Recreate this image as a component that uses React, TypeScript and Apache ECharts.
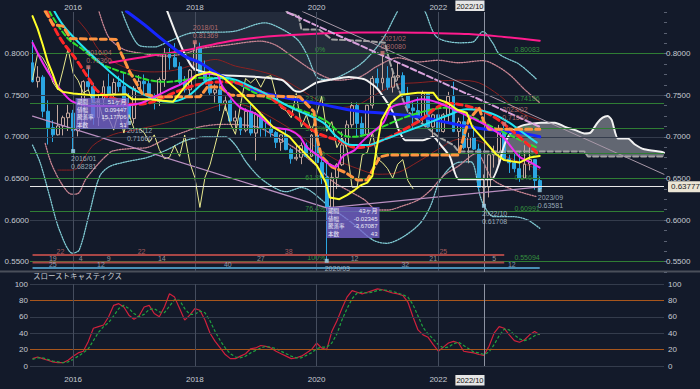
import React, { useEffect, useRef } from 'react';
import * as echarts from 'echarts';

const FONT = '"Liberation Sans", "Noto Sans CJK JP", sans-serif';
const BG = '#131a2a';
const AXIS_TEXT = '#c6cad2';

// ---------- categories (monthly) ----------
const START_YEAR = 2015;
const START_MONTH = 5;
const CATEGORY_COUNT = 125;
const categories: string[] = Array.from({ length: CATEGORY_COUNT }, (_, k) => {
  const m = START_MONTH - 1 + k;
  return `${START_YEAR + Math.floor(m / 12)}/${String((m % 12) + 1).padStart(2, '0')}`;
});
const yearLabels = ['2016/01', '2018/01', '2020/01', '2022/01'];
const cursorMonth = '2022/10';
const priceGridLevels = [0.55, 0.6, 0.65, 0.7, 0.75, 0.8];
const priceLabelMax = 0.8;
const stochGridLevels = [0, 40, 60, 100];
const stochBandLevels = [20, 80];
const currentPrice = 0.63777;

// ---------- monthly candles [open, high, low, close] 2015/05 .. 2023/09 ----------
const ohlc: number[][] = [
  [0.7890, 0.8163, 0.7652, 0.7663], [0.7663, 0.7849, 0.7592, 0.7717], [0.7717, 0.7741, 0.7234, 0.7307], [0.7307, 0.7439, 0.6907, 0.7110],
  [0.7110, 0.7198, 0.6937, 0.7024], [0.7024, 0.7382, 0.7016, 0.7130], [0.7130, 0.7254, 0.7017, 0.7230], [0.7230, 0.7384, 0.7070, 0.7285],
  [0.7285, 0.7324, 0.68281, 0.7073], [0.7073, 0.7242, 0.7005, 0.7134], [0.7134, 0.7680, 0.7100, 0.7663], [0.7663, 0.7836, 0.7548, 0.7602],
  [0.7602, 0.7649, 0.7145, 0.7231], [0.7231, 0.7508, 0.7130, 0.7452], [0.7452, 0.7676, 0.7380, 0.7602], [0.7602, 0.7758, 0.7489, 0.7519],
  [0.7519, 0.7700, 0.7442, 0.7653], [0.7653, 0.7733, 0.7542, 0.7605], [0.7605, 0.7778, 0.7310, 0.7385], [0.7385, 0.7525, 0.7166, 0.7219],
  [0.7219, 0.7610, 0.7160, 0.7582], [0.7582, 0.7741, 0.7563, 0.7667], [0.7667, 0.7749, 0.7491, 0.7638], [0.7638, 0.7680, 0.7470, 0.7483],
  [0.7483, 0.7520, 0.7329, 0.7424], [0.7424, 0.7713, 0.7370, 0.7688], [0.7688, 0.8066, 0.7600, 0.7998], [0.7998, 0.8066, 0.7807, 0.7950],
  [0.7950, 0.8125, 0.7835, 0.7842], [0.7842, 0.7897, 0.7625, 0.7655], [0.7655, 0.7730, 0.7532, 0.7565], [0.7565, 0.7815, 0.7501, 0.7801],
  [0.7801, 0.81369, 0.7792, 0.8057], [0.8057, 0.8131, 0.7759, 0.7764], [0.7764, 0.7917, 0.7643, 0.7676], [0.7676, 0.7813, 0.7500, 0.7528],
  [0.7528, 0.7630, 0.7412, 0.7565], [0.7565, 0.7677, 0.7310, 0.7401], [0.7401, 0.7484, 0.7309, 0.7432], [0.7432, 0.7453, 0.7185, 0.7190],
  [0.7190, 0.7315, 0.7085, 0.7227], [0.7227, 0.7241, 0.7021, 0.7080], [0.7080, 0.7341, 0.7055, 0.7306], [0.7306, 0.7394, 0.7015, 0.7045],
  [0.7045, 0.7296, 0.6716, 0.7267], [0.7267, 0.7296, 0.7002, 0.7099], [0.7099, 0.7169, 0.7003, 0.7098], [0.7098, 0.7207, 0.6988, 0.7051],
  [0.7051, 0.7069, 0.6865, 0.6934], [0.6934, 0.7028, 0.6832, 0.7023], [0.7023, 0.7082, 0.6838, 0.6846], [0.6846, 0.6868, 0.6677, 0.6736],
  [0.6736, 0.6895, 0.6713, 0.6754], [0.6754, 0.6930, 0.6671, 0.6894], [0.6894, 0.6930, 0.6754, 0.6765], [0.6765, 0.7032, 0.6755, 0.7021],
  [0.7021, 0.7031, 0.6683, 0.6690], [0.6690, 0.6775, 0.6433, 0.6510], [0.6510, 0.6685, 0.55094, 0.6151], [0.6151, 0.6570, 0.5980, 0.6512],
  [0.6512, 0.6683, 0.6372, 0.6665], [0.6665, 0.7064, 0.6648, 0.6902], [0.6902, 0.7196, 0.6877, 0.7144], [0.7144, 0.7414, 0.7110, 0.7376],
  [0.7376, 0.7413, 0.7005, 0.7161], [0.7161, 0.7243, 0.6991, 0.7030], [0.7030, 0.7370, 0.6991, 0.7380], [0.7380, 0.7731, 0.7340, 0.7701],
  [0.7701, 0.7820, 0.7592, 0.7648], [0.7648, 0.8008, 0.7564, 0.7704], [0.7704, 0.7849, 0.7563, 0.7596], [0.7596, 0.7816, 0.7532, 0.7717],
  [0.7717, 0.7891, 0.7675, 0.7735], [0.7735, 0.7775, 0.7477, 0.7500], [0.7500, 0.7600, 0.7289, 0.7347], [0.7347, 0.7427, 0.7106, 0.7315],
  [0.7315, 0.7478, 0.7170, 0.7229], [0.7229, 0.7556, 0.7170, 0.7521], [0.7521, 0.7536, 0.7111, 0.7120], [0.7120, 0.7277, 0.6993, 0.7264],
  [0.7264, 0.7315, 0.6968, 0.7064], [0.7064, 0.7284, 0.7050, 0.7263], [0.7263, 0.7540, 0.7165, 0.7486], [0.7486, 0.7662, 0.7055, 0.7065],
  [0.7065, 0.7230, 0.6829, 0.7182], [0.7182, 0.7283, 0.6850, 0.6870], [0.6870, 0.7048, 0.6682, 0.6990], [0.6990, 0.7137, 0.6841, 0.6852],
  [0.6852, 0.6916, 0.6363, 0.6394], [0.6394, 0.6547, 0.61708, 0.6397], [0.6397, 0.6800, 0.6272, 0.6783], [0.6783, 0.6893, 0.6630, 0.6812],
  [0.6812, 0.7143, 0.6688, 0.7056], [0.7056, 0.71566, 0.6722, 0.6734], [0.6734, 0.6784, 0.6565, 0.6688], [0.6688, 0.6806, 0.6573, 0.6617],
  [0.6617, 0.6818, 0.6458, 0.6503], [0.6503, 0.6899, 0.6500, 0.6671], [0.6671, 0.6895, 0.6596, 0.6726], [0.6726, 0.6730, 0.6364, 0.6474],
  [0.6474, 0.6522, 0.63581, 0.63777],
];
const chikouShift = 25;

// ---------- indicator lines: [monthIndex, value] ----------
const longMA = [[15.2, 0.789], [22, 0.796], [31, 0.805], [38, 0.814], [44, 0.819], [50, 0.822], [56, 0.824], [64, 0.8255], [72, 0.8255], [80, 0.8245], [86, 0.8235], [93, 0.82], [100, 0.8155]];
const blueMA = [[18.5, 0.851], [22, 0.835], [26, 0.815], [30, 0.797], [33, 0.789], [37, 0.774], [41, 0.763], [44, 0.755], [50, 0.747], [57, 0.739], [64, 0.731], [70, 0.728], [76, 0.724], [82, 0.717], [86, 0.712], [92, 0.707], [96, 0.705], [100, 0.70]];
const cyanMA = [[4.3, 0.851], [6.7, 0.829], [12.6, 0.793], [19.1, 0.76], [24.4, 0.745], [27, 0.742], [30.4, 0.748], [34.9, 0.769], [37.5, 0.771], [44.2, 0.757], [50.7, 0.736], [57.3, 0.717], [60, 0.70], [63, 0.69], [66, 0.69], [69, 0.696], [75.7, 0.711], [82.2, 0.7265], [85.6, 0.733], [90.1, 0.729], [94, 0.717], [96, 0.708], [99.4, 0.693]];
const redMA = [[2.8, 0.851], [5.3, 0.82], [8.7, 0.792], [11.2, 0.769], [13.2, 0.753], [16.6, 0.745], [19.7, 0.739], [23.1, 0.741], [26.4, 0.749], [29.6, 0.757], [32.9, 0.763], [37.5, 0.766], [44.2, 0.757], [49.3, 0.736], [52.7, 0.72], [56, 0.705], [60.6, 0.695], [63.9, 0.687], [69, 0.696], [75.7, 0.717], [82.2, 0.74], [85.6, 0.737], [90.1, 0.727], [95, 0.705], [99.4, 0.681]];
const greenMA = [[3.3, 0.851], [6.7, 0.82], [9.9, 0.805], [13.2, 0.789], [16.6, 0.78], [19.7, 0.774], [23.1, 0.768], [26.4, 0.766], [29.6, 0.768], [32.9, 0.771], [37.5, 0.77], [44.2, 0.752], [50.7, 0.737], [57.3, 0.721], [62.6, 0.70], [66, 0.703], [69, 0.712], [75.7, 0.728], [82.2, 0.735], [86.2, 0.725], [92, 0.708], [99.4, 0.687]];
const magentaMA = [[0, 0.813], [2, 0.789], [4, 0.769], [6, 0.753], [8, 0.742], [12, 0.737], [16, 0.737], [21, 0.74], [24, 0.748], [27, 0.757], [29.5, 0.764], [33, 0.775], [36, 0.776], [37.5, 0.76], [40.8, 0.736], [44.2, 0.727], [47.4, 0.712], [50.7, 0.708], [52.7, 0.70], [54, 0.688], [56.6, 0.676], [58, 0.669], [59.8, 0.664], [61.1, 0.676], [63.5, 0.684], [64.8, 0.693], [66, 0.70], [67.5, 0.708], [69.2, 0.717], [70.7, 0.735], [74, 0.741], [76.7, 0.745], [80, 0.741], [83, 0.733], [86.2, 0.724], [89.4, 0.714], [92.7, 0.70], [96, 0.676], [98, 0.67], [100, 0.663]];
const tenkan = [[0, 0.845], [1, 0.83], [2, 0.811], [3, 0.79], [4, 0.775], [5, 0.758], [6, 0.754], [8, 0.752], [12, 0.75], [18.5, 0.751], [19.7, 0.745], [23, 0.745], [27.7, 0.742], [30.4, 0.763], [32.3, 0.774], [34.9, 0.778], [37.5, 0.772], [40.8, 0.754], [44.2, 0.7325], [47.4, 0.712], [50.7, 0.70], [52.1, 0.69], [56, 0.666], [57.8, 0.645], [58.6, 0.627], [60.5, 0.625], [62, 0.63], [63.5, 0.636], [64.8, 0.642], [66, 0.645], [67, 0.653], [67.7, 0.681], [68.8, 0.72], [70.7, 0.741], [72.6, 0.7506], [75.9, 0.753], [79, 0.753], [80, 0.745], [81.8, 0.741], [83.7, 0.7325], [85.6, 0.729], [86.7, 0.712], [89, 0.696], [91.4, 0.679], [93, 0.672], [96, 0.669], [98, 0.675], [100, 0.677]];
const kijun = [[2.5, 0.851], [4, 0.835], [6, 0.833], [7.5, 0.818], [16.5, 0.817], [17.5, 0.80], [19, 0.78], [20.5, 0.764], [21.6, 0.752], [24.5, 0.748], [33, 0.748], [34.5, 0.76], [37, 0.76], [39, 0.75], [52.7, 0.748], [55.5, 0.73], [56, 0.70], [57, 0.676], [59, 0.664], [61.7, 0.657], [64, 0.648], [66, 0.648], [67.3, 0.663], [68.5, 0.676], [70, 0.678], [84, 0.678], [85, 0.70], [86, 0.72], [88, 0.735], [89, 0.718], [90, 0.709], [100, 0.709]];
const spanA = [[26, 0.86], [28.2, 0.825], [29.9, 0.801], [31.6, 0.783], [34.3, 0.777], [37.5, 0.774], [44.2, 0.772], [49.3, 0.768], [51.5, 0.756], [52.6, 0.754], [55.9, 0.765], [59.1, 0.769], [62.3, 0.772], [65.5, 0.769], [67.8, 0.759], [69.5, 0.745], [71, 0.73], [72.2, 0.708], [73.5, 0.696], [77, 0.696], [79, 0.70], [80.5, 0.69], [82.3, 0.676], [84, 0.649], [90.5, 0.649], [92, 0.668], [92.6, 0.682], [93.4, 0.696], [94.8, 0.708], [96.8, 0.714], [100.3, 0.717], [103, 0.717], [105, 0.712], [107, 0.708], [108.8, 0.704], [110, 0.705], [111.4, 0.717], [112.4, 0.723], [113.4, 0.725], [114.2, 0.72], [115.4, 0.698], [117.4, 0.698], [118.7, 0.691], [120.6, 0.685], [123.9, 0.682], [124.5, 0.681]];
const spanB = [[26, 0.875], [48, 0.87], [50.3, 0.849], [52.5, 0.845], [53, 0.829], [56.5, 0.829], [59, 0.817], [66, 0.815], [69.5, 0.813], [70, 0.80], [70.5, 0.789], [72, 0.76], [74, 0.73], [77, 0.715], [80, 0.70], [83, 0.69], [84, 0.6823], [92.6, 0.6823], [108.8, 0.6823], [109.5, 0.6763], [124.5, 0.6763]];
const cloudSplit = 92.6;
const bandOuterUpper = [[17.5, 0.853], [21, 0.81], [24, 0.808], [27, 0.815], [31.5, 0.825], [39.4, 0.8265], [45.8, 0.837], [49, 0.83], [52.2, 0.817], [54, 0.80], [56, 0.772], [57.3, 0.769], [60, 0.771], [65, 0.789], [69, 0.817], [71.8, 0.849], [73, 0.86], [76.5, 0.86], [77.5, 0.849], [79.7, 0.82], [84.2, 0.813], [86.8, 0.814], [88.8, 0.8265], [90.7, 0.813], [92.1, 0.799], [96, 0.787], [99.4, 0.769]];
const bandOuterLower = [[0, 0.69], [1.5, 0.669], [3.4, 0.628], [5.3, 0.588], [7.9, 0.56], [9.2, 0.564], [11.2, 0.608], [13.2, 0.652], [15.1, 0.664], [18.5, 0.67], [22.5, 0.675], [26.4, 0.684], [30.4, 0.696], [34.3, 0.70], [38, 0.70], [40, 0.69], [42.2, 0.669], [45.4, 0.648], [50, 0.634], [53, 0.639], [58.6, 0.616], [63.1, 0.596], [67.1, 0.576], [69.8, 0.572], [73, 0.5795], [76.4, 0.596], [78.4, 0.616], [80.4, 0.648], [83.8, 0.669], [86.4, 0.67], [88.3, 0.628], [89.3, 0.614], [90.9, 0.604], [94.8, 0.604], [97.6, 0.60], [100, 0.59]];
const bandMidUpper = [[13, 0.853], [15, 0.82], [18, 0.805], [22, 0.80], [26, 0.797], [30, 0.80], [33, 0.806], [38, 0.81], [45, 0.815], [48, 0.81], [52, 0.793], [56, 0.777], [60, 0.768], [64.5, 0.772], [68, 0.785], [72, 0.795], [76, 0.79], [80, 0.792], [84, 0.789], [88.8, 0.7916], [91, 0.787], [94, 0.775], [97, 0.757], [100, 0.741]];
const bandMidLower = [[2.5, 0.692], [3.7, 0.668], [5.7, 0.644], [7.7, 0.631], [9, 0.632], [10.5, 0.649], [12.6, 0.665], [14.5, 0.677], [15.8, 0.683], [19.7, 0.686], [22.5, 0.687], [26.4, 0.698], [30, 0.706], [33, 0.712], [37.5, 0.715], [44.2, 0.712], [48, 0.70], [52, 0.685], [56, 0.665], [59.5, 0.645], [63, 0.633], [65.5, 0.624], [68, 0.612], [70, 0.612], [73, 0.617], [76, 0.624], [78.5, 0.636], [81, 0.653], [84, 0.665], [87.5, 0.68], [90.7, 0.649], [94.5, 0.637], [99.4, 0.628]];
const bandInnerUpper = [[9, 0.84], [11, 0.825], [13, 0.805], [16, 0.79], [20, 0.78], [24, 0.778], [28, 0.78], [32, 0.787], [36, 0.793], [40, 0.785], [44, 0.78], [48, 0.773], [52, 0.76], [56, 0.745], [60, 0.735], [64, 0.738], [68, 0.752], [72, 0.763], [76, 0.765], [80, 0.767], [84, 0.768], [88, 0.765], [92, 0.75], [96, 0.73], [100, 0.72]];
const bandInnerLower = [[5, 0.66], [8, 0.66], [12, 0.69], [16, 0.703], [20, 0.708], [23, 0.712], [27, 0.718], [30, 0.725], [33, 0.73], [37, 0.738], [40, 0.74], [44, 0.733], [48, 0.72], [52, 0.705], [56, 0.687], [60, 0.672], [64, 0.662], [68, 0.655], [72, 0.657], [76, 0.67], [80, 0.685], [84, 0.697], [88, 0.695], [92, 0.68], [96, 0.67], [100, 0.66]];
const channelDashed = [[50.3, 0.8494], [100, 0.712]];
const channelThin = [[53.2, 0.8506], [124.5, 0.6549]];
const supportLeft = [[0, 0.7248], [58, 0.6145]];
const supportRight = [[58, 0.6145], [100, 0.6398]];

// ---------- fibonacci retracement (2021/02 high -> 2020/03 low) ----------
const fibLevels = [0.80083, 0.74186, 0.70537, 0.67589, 0.6464, 0.60991, 0.55094];
const fibNames = ['0%', '23.6%', '38.2%', '50%', '61.8%', '76.4%', '100%'];
const fibNameAt = 57.7; // names end here (right-aligned)
const fibValueAt = 95; // values start here

// ---------- swing annotations ----------
const swingHighs = [[11, 0.7836, '2016/04\n0.78360'], [32, 0.81369, '2018/01\n0.81369'], [69, 0.8008, '2021/02\n0.80080'], [93, 0.71566, '2023/02\n0.71566']];
const swingLows = [[8, 0.68281, '2016/01\n0.68281'], [19, 0.7166, '2016/12\n0.71660'], [58, 0.55094, '2020/03'], [89, 0.61708, '2022/10\n0.61708'], [100, 0.63581, '2023/09\n0.63581']];
const infoBoxes = [
  { at: [8.47, 0.7466], rows: [['期間', '51ヶ月'], ['値幅', '0.09447'], ['騰落率', '15.17706'], ['本数', '51']] },
  { at: [57.96, 0.6156], rows: [['期間', '43ヶ月'], ['値幅', '-0.02345'], ['騰落率', '-3.67087'], ['本数', '43']] },
];
// bar-count rows: [from, to, count]
const highToHigh = [[0, 11, '22'], [11, 32, '22'], [32, 69, '38'], [69, 93, '25']];
const swingToSwing = [[0, 8, '19'], [8, 11, '4'], [11, 19, '9'], [19, 32, '14'], [32, 58, '27'], [58, 69, '12'], [69, 89, '21'], [89, 93, '5']];
const lowToLow = [[0, 8, '25'], [8, 19, '12'], [19, 58, '40'], [58, 89, '32'], [89, 100, '12']];
const countRowLevels = [0.5579, 0.5489, 0.5423];

// ---------- slow stochastics ----------
const stochK = [9, 11, 9, 7, 5, 4, 4, 7, 12, 16, 18, 30, 46, 48, 50, 60, 74, 76, 72, 62, 57, 61, 72, 74, 64, 60, 72, 88, 84, 70, 56, 62, 70, 68, 56, 40, 30, 22, 14, 9, 9, 12, 15, 21, 22, 25, 24, 22, 18, 15, 12, 9, 10, 12, 16, 20, 28, 22, 20, 42, 55, 70, 84, 92, 90, 88, 90, 92, 94, 93, 91, 89, 88, 86, 78, 60, 44, 38, 35, 26, 18, 23, 28, 30, 28, 18, 17, 16, 14, 13, 24, 40, 48, 46, 38, 31, 29, 32, 38, 42, 38];
const stochD = [8, 10, 10, 8, 6, 5, 4, 5, 8, 12, 16, 21, 31, 41, 48, 53, 61, 70, 74, 70, 64, 60, 63, 69, 70, 66, 65, 73, 81, 80, 70, 63, 63, 67, 65, 55, 42, 31, 22, 15, 11, 10, 12, 16, 19, 22, 24, 23, 21, 18, 15, 12, 10, 10, 13, 16, 21, 23, 23, 28, 39, 56, 70, 82, 89, 90, 89, 90, 92, 93, 92, 91, 89, 87, 84, 75, 61, 47, 39, 33, 26, 22, 23, 27, 29, 25, 21, 17, 16, 14, 17, 26, 37, 45, 44, 38, 33, 31, 33, 37, 39];

function buildOption(): any {
  const yearIdx = yearLabels.map((m) => categories.indexOf(m));
  const cursorIdx = categories.indexOf(cursorMonth);
  const isMajor = (v: number) => Math.abs(v * 20 - Math.round(v * 20)) < 1e-6 && v <= priceLabelMax + 1e-6;

  const catAxis = (gridIndex: number, position: string, margin: number) => ({
    type: 'category', gridIndex, data: categories, position, boundaryGap: true,
    axisLine: { show: false }, axisTick: { show: false }, splitLine: { show: false },
    axisLabel: {
      interval: (i: number) => yearIdx.includes(i) || i === cursorIdx,
      formatter: (v: string) => (v === cursorMonth ? `{hl|${v}}{sp|}` : v.slice(0, 4)),
      color: AXIS_TEXT, fontSize: 8, fontFamily: FONT, margin,
      rich: {
        hl: { backgroundColor: '#e6e6e6', color: '#111', fontSize: 7.5, fontFamily: FONT, padding: [2, 1, 1, 1] },
        sp: { width: 28 },
      },
    },
  });
  const valAxis = (gridIndex: number) => ({ type: 'value', gridIndex, min: -0.5, max: CATEGORY_COUNT - 0.5, show: false });
  const priceAxis = (position: string, ticks: boolean) => ({
    type: 'value', gridIndex: 0, position, min: 0.5375, max: 0.85, interval: 0.0125,
    axisLine: { show: false }, splitLine: { show: false },
    axisTick: { show: ticks, length: 3, lineStyle: { color: '#5a6172' } },
    axisLabel: {
      color: AXIS_TEXT, fontSize: 8, fontFamily: FONT, margin: ticks ? 2 : 1,
      formatter: (v: number) => (isMajor(v) ? (Math.round(v * 20) / 20).toFixed(4) : ''),
    },
  });
  const stochAxis = (position: string) => ({
    type: 'value', gridIndex: 1, position, min: 0, max: 100, interval: 20,
    axisLine: { show: false }, axisTick: { show: false }, splitLine: { show: false },
    axisLabel: { color: AXIS_TEXT, fontSize: 8, fontFamily: FONT, margin: position === 'left' ? 2 : 4 },
  });

  const line = (data: number[][], color: string, width: number, type: any = 'solid', smooth: any = 0.3, z = 4) => ({
    type: 'line', xAxisIndex: 1, yAxisIndex: 0, data, showSymbol: false, symbol: 'none', silent: true,
    smooth, lineStyle: { color, width, type, cap: 'round' }, z, animation: false,
  });

  const cloud = (lo: number, hi: number, fill: string) => ({
    type: 'custom', xAxisIndex: 1, yAxisIndex: 0, silent: true, z: 1, clip: true,
    data: [[lo, 0.7]],
    renderItem: (_p: any, api: any) => {
      const top = spanA.filter((p) => p[0] >= lo && p[0] <= hi).map((p) => api.coord(p));
      const bot = spanB.filter((p) => p[0] >= lo && p[0] <= hi).map((p) => api.coord(p)).reverse();
      return { type: 'polygon', shape: { points: top.concat(bot) }, style: { fill } };
    },
  });

  const labelText = (color: string) => ({ color, fontSize: 7, fontFamily: FONT, lineHeight: 7.5 });

  const countRow = (segs: any[], level: number, lineColor: string, textColor: string) => [
    {
      type: 'line', xAxisIndex: 1, yAxisIndex: 0, silent: true, symbol: 'none', z: 5,
      data: [[segs[0][0], level], [segs[segs.length - 1][1], level]],
      lineStyle: { color: lineColor, width: 2 },
    },
    {
      type: 'scatter', xAxisIndex: 1, yAxisIndex: 0, silent: true, symbolSize: 0, z: 6,
      data: segs.map((s) => [(s[0] + s[1]) / 2, level, s[2]]),
      label: { show: true, position: [0, 0], align: 'center', verticalAlign: 'bottom', formatter: (p: any) => p.data[2], ...labelText(textColor) },
    },
  ];

  const series: any[] = [
    {
      type: 'line', xAxisIndex: 1, yAxisIndex: 0, data: [], silent: true, z: 0,
      markLine: {
        silent: true, symbol: ['none', 'none'], label: { show: false }, animation: false,
        data: [
          ...priceGridLevels.map((v) => ({ yAxis: v, lineStyle: { color: '#343c4c', width: 1, type: 'solid' } })),
          ...yearIdx.map((i) => ({ xAxis: i, lineStyle: { color: '#454d5e', width: 1, type: 'solid' } })),
          { xAxis: cursorIdx, lineStyle: { color: '#8d93a2', width: 1, type: 'solid' } },
        ],
      },
    },
    {
      type: 'line', xAxisIndex: 1, yAxisIndex: 0, data: [], silent: true, z: 1,
      markLine: {
        silent: true, symbol: ['none', 'none'], label: { show: false }, animation: false,
        data: fibLevels.map((v) => ({ yAxis: v, lineStyle: { color: '#2f7d34', width: 1, type: 'solid' } })),
      },
    },
    {
      type: 'scatter', xAxisIndex: 1, yAxisIndex: 0, silent: true, symbolSize: 0, z: 2,
      data: fibLevels.map((v, k) => [fibNameAt, v, fibNames[k]]),
      label: { show: true, position: [0, 0], align: 'right', verticalAlign: 'bottom', formatter: (p: any) => p.data[2], ...labelText('#3fae45') },
    },
    {
      type: 'scatter', xAxisIndex: 1, yAxisIndex: 0, silent: true, symbolSize: 0, z: 2,
      data: fibLevels.map((v) => [fibValueAt, v, v.toFixed(5)]),
      label: { show: true, position: [0, 0], align: 'left', verticalAlign: 'bottom', formatter: (p: any) => p.data[2], ...labelText('#3fae45') },
    },
    cloud(-1, cloudSplit, 'rgba(150,160,180,0.13)'),
    cloud(cloudSplit, 200, 'rgba(178,180,186,0.5)'),
    line(bandOuterUpper, '#7fc9d2', 1.3, 'dotted', 0.3, 2),
    line(bandOuterLower, '#7fc9d2', 1.3, 'dotted', 0.3, 2),
    line(bandMidUpper, '#c98593', 1.3, 'dotted', 0.3, 2),
    line(bandMidLower, '#c98593', 1.3, 'dotted', 0.3, 2),
    line(bandInnerUpper, '#8c2222', 1, 'solid', 0.3, 2),
    line(bandInnerLower, '#8c2222', 1, 'solid', 0.3, 2),
    {
      type: 'candlestick', xAxisIndex: 0, yAxisIndex: 0, silent: true, z: 3, barWidth: 3.4,
      data: ohlc.map(([o, h, l, c]) => [o, c, l, h]),
      itemStyle: { color: 'transparent', color0: '#2ba6e2', borderColor: '#c4a89e', borderColor0: '#2ba6e2', borderWidth: 1 },
    },
    line(ohlc.slice(chikouShift).map((r, k) => [k, r[3]]), '#e9e98e', 1, 'solid', false, 4),
    line(spanB, '#a3a3a3', 2, [5, 3], false, 4),
    line(spanA, '#f2f2f2', 2, 'solid', 0.2, 4),
    line(longMA, '#ff1b8d', 2, 'solid', 0.4, 4),
    line(channelThin, '#a898a8', 1, 'solid', false, 4),
    line(channelDashed, '#d9a2dc', 2, [6, 3], false, 4),
    line(supportLeft, '#b98fc0', 1.2, 'solid', false, 4),
    line(supportRight, '#b98fc0', 1.2, 'solid', false, 4),
    line(blueMA, '#1626ff', 3, 'solid', 0.4, 5),
    line(greenMA, '#2fe02f', 2, [5, 3], 0.4, 5),
    line(redMA, '#ff2727', 3, [6, 4], 0.4, 5),
    line(cyanMA, '#22e4f2', 2, 'solid', 0.4, 5),
    line(kijun, '#ff9440', 3, [6, 4], false, 5),
    line(magentaMA, '#f02cf0', 2, 'solid', 0.35, 5),
    line(tenkan, '#ffff2a', 2, 'solid', false, 5),
    {
      type: 'line', xAxisIndex: 1, yAxisIndex: 0, data: [], silent: true, z: 6,
      markLine: {
        silent: true, symbol: ['none', 'none'], animation: false,
        data: [{ yAxis: currentPrice, lineStyle: { color: '#e8e8e8', width: 1, type: 'solid' } }],
        label: {
          show: true, position: 'end', distance: 4, formatter: currentPrice.toFixed(5),
          backgroundColor: '#ebe5d5', color: '#1b1b1b', fontSize: 8, fontFamily: FONT, padding: [2, 3, 1, 3], borderRadius: 1,
        },
      },
    },
    {
      type: 'scatter', xAxisIndex: 1, yAxisIndex: 0, silent: true, symbol: 'rect', symbolSize: 4, z: 7,
      itemStyle: { color: '#d27a78' }, data: swingHighs,
      label: { show: true, position: [0, -1], align: 'left', verticalAlign: 'bottom', formatter: (p: any) => p.data[2], ...labelText('#d07e7c') },
    },
    {
      type: 'scatter', xAxisIndex: 1, yAxisIndex: 0, silent: true, symbol: 'rect', symbolSize: 4, z: 7,
      itemStyle: { color: '#9fd6ee' }, data: swingLows,
      label: { show: true, position: [0, 6], align: 'left', verticalAlign: 'top', formatter: (p: any) => p.data[2], ...labelText('#bccddb') },
    },
    {
      type: 'custom', xAxisIndex: 1, yAxisIndex: 0, silent: true, z: 8, clip: false,
      data: infoBoxes.map((b) => b.at),
      renderItem: (params: any, api: any) => {
        const b = infoBoxes[params.dataIndex];
        const p = api.coord(b.at);
        const w = 53; const h = 31;
        const children: any[] = [{ type: 'rect', shape: { x: p[0], y: p[1], width: w, height: h }, style: { fill: 'rgba(118,100,205,0.78)' } }];
        b.rows.forEach((r, k) => {
          const ty = p[1] + 4.2 + k * 7.6;
          children.push({ type: 'text', style: { x: p[0] + 1.5, y: ty, text: r[0], fill: '#ecebf6', font: `5.5px ${FONT}`, verticalAlign: 'middle', align: 'left' } });
          children.push({ type: 'text', style: { x: p[0] + w - 2, y: ty, text: r[1], fill: '#ecebf6', font: `6px ${FONT}`, verticalAlign: 'middle', align: 'right' } });
        });
        return { type: 'group', children };
      },
    },
    ...countRow(highToHigh, countRowLevels[0], '#a84646', '#c86a6a'),
    ...countRow(swingToSwing, countRowLevels[1], '#a84646', '#b4b4b8'),
    ...countRow(lowToLow, countRowLevels[2], '#4a8fb6', '#9fb9cc'),
    {
      type: 'line', xAxisIndex: 3, yAxisIndex: 2, data: [], silent: true, z: 0,
      markLine: {
        silent: true, symbol: ['none', 'none'], label: { show: false }, animation: false,
        data: [
          ...stochGridLevels.map((v) => ({ yAxis: v, lineStyle: { color: '#343c4c', width: 1, type: 'solid' } })),
          ...stochBandLevels.map((v) => ({ yAxis: v, lineStyle: { color: '#a8561c', width: 1, type: 'solid' } })),
          ...yearIdx.map((i) => ({ xAxis: i, lineStyle: { color: '#454d5e', width: 1, type: 'solid' } })),
          { xAxis: cursorIdx, lineStyle: { color: '#8d93a2', width: 1, type: 'solid' } },
        ],
      },
    },
    {
      type: 'line', xAxisIndex: 3, yAxisIndex: 2, data: stochK.map((v, i) => [i, v]), showSymbol: false, symbol: 'none', silent: true, z: 3,
      lineStyle: { color: '#d0213c', width: 1.2 },
    },
    {
      type: 'line', xAxisIndex: 3, yAxisIndex: 2, data: stochD.map((v, i) => [i, v]), showSymbol: false, symbol: 'none', silent: true, z: 4,
      lineStyle: { color: '#1fa23f', width: 1.2, type: [3, 2] },
    },
  ];

  return {
    animation: false,
    backgroundColor: BG,
    textStyle: { fontFamily: FONT },
    grid: [
      { left: 30, right: 36, top: 12, height: 260 },
      { left: 30, right: 36, top: 284, height: 82 },
    ],
    xAxis: [catAxis(0, 'top', 1), valAxis(0), catAxis(1, 'bottom', 9), valAxis(1)],
    yAxis: [priceAxis('left', false), priceAxis('right', true), stochAxis('left'), stochAxis('right')],
    graphic: [
      { type: 'rect', left: 0, top: 270.5, shape: { width: 700, height: 2 }, style: { fill: '#4a4f5a' }, silent: true },
      { type: 'text', left: 33, top: 273, style: { text: 'スローストキャスティクス', fill: '#c6cad2', font: `7.5px ${FONT}` }, silent: true },
    ],
    series,
  };
}

export default function App() {
  const ref = useRef<HTMLDivElement>(null);
  useEffect(() => {
    document.body.style.margin = '0';
    const chart = echarts.init(ref.current!, undefined, { renderer: 'svg' });
    chart.setOption(buildOption());
    return () => chart.dispose();
  }, []);
  return <div ref={ref} style={{ position: 'fixed', left: 0, top: 0, width: 700, height: 389, background: BG }} />;
}
